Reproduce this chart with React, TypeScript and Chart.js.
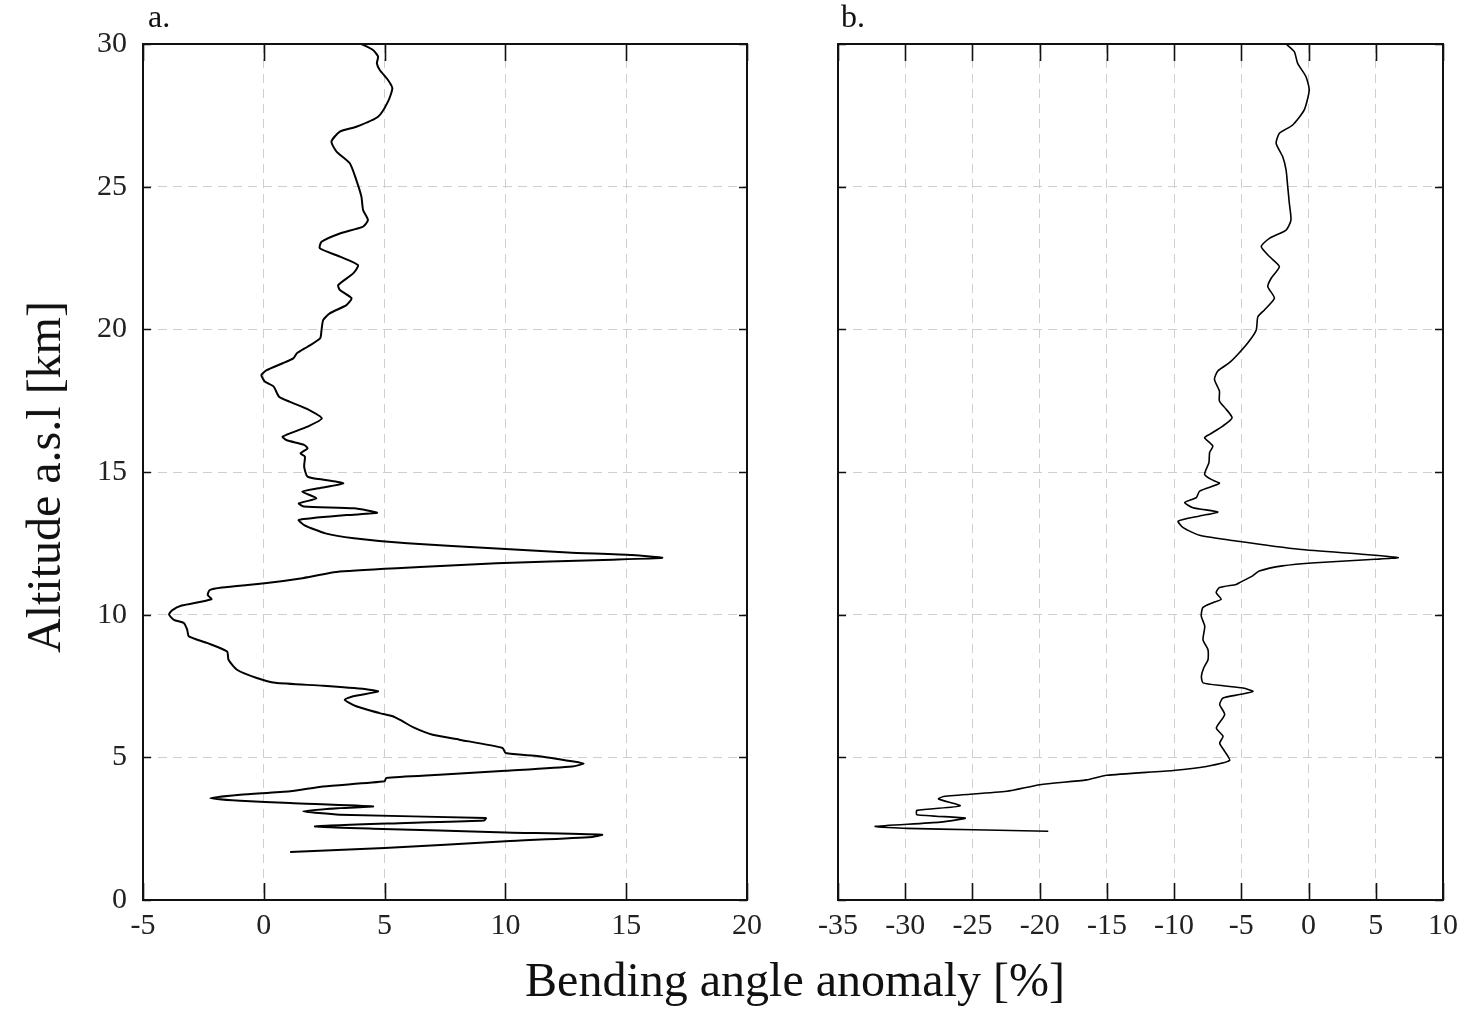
import React, { useEffect, useRef } from "react";
import { Chart, registerables } from "chart.js";

Chart.register(...registerables);

// Panel a: bending angle anomaly [%] vs altitude [km]
const altA = [
  30, 29.79, 29.56, 29.32, 29.09, 28.74, 28.45, 27.98, 27.45, 27.1, 26.93, 26.58, 26.23, 25.82, 25.23, 24.65,
  24.18, 23.83, 23.6, 23.36, 23.07, 22.84, 22.55, 22.25, 21.96, 21.55, 21.38, 21.09, 20.85, 20.56, 20.33, 19.98,
  19.68, 19.39, 19.16, 18.98, 18.81, 18.57, 18.4, 18.17, 17.99, 17.64, 17.46, 17.23, 16.88, 16.59, 16.24, 16.12,
  15.95, 15.83, 15.65, 15.54, 15.19, 14.84, 14.72, 14.6, 14.43, 14.31, 14.08, 13.9, 13.79, 13.73, 13.57, 13.49,
  13.32, 13.14, 12.85, 12.68, 12.5, 12.32, 12.18, 12.09, 11.99, 11.92, 11.8, 11.68, 11.51, 11.27, 11.1, 10.95,
  10.86, 10.69, 10.54, 10.32, 10.15, 10.0, 9.82, 9.71, 9.47, 9.24, 9.01, 8.71, 8.42, 8.07, 7.78, 7.61,
  7.51, 7.39, 7.31, 7.14, 7.02, 6.79, 6.55, 6.44, 6.26, 6.03, 5.79, 5.62, 5.33, 5.15, 5.04, 4.86,
  4.78, 4.68, 4.53, 4.39, 4.28, 4.16, 3.98, 3.81, 3.69, 3.57, 3.48, 3.4, 3.28, 3.22, 3.11, 2.99,
  2.87, 2.79, 2.7, 2.58, 2.5, 2.37, 2.29, 2.21, 2.06, 1.82, 1.68,
];
const anomA = [
  4.04, 4.52, 4.73, 4.68, 4.8, 5.14, 5.32, 5.14, 4.73, 3.83, 3.15, 2.8, 3.01, 3.56, 3.83, 4.04,
  4.11, 4.31, 4.11, 3.15, 2.39, 2.32, 3.15, 3.9, 3.7, 3.08, 3.15, 3.63, 3.42, 2.73, 2.46, 2.39,
  2.33, 1.81, 1.37, 1.22, 0.78, 0.12, -0.1, 0.04, 0.41, 0.63, 1.08, 1.74, 2.4, 1.81, 0.78, 0.93,
  1.67, 1.81, 1.52, 1.7, 1.67, 1.81, 2.55, 3.29, 2.26, 1.59, 2.18, 1.45, 1.67, 3.73, 4.69, 3.44,
  1.45, 1.67, 2.55, 3.73, 5.94, 9.63, 12.58, 15.24, 16.49, 14.06, 9.63, 6.68, 3.14, 1.52, 0.04, -1.73,
  -2.24, -2.32, -2.17, -3.4, -3.8, -3.92, -3.72, -3.31, -3.17, -3.1, -2.35, -1.52, -1.46, -1.11, -0.29, 0.47,
  2.46, 4.24, 4.73, 3.7, 3.35, 3.83, 4.79, 5.34, 5.75, 6.24, 6.99, 8.09, 9.88, 10.01, 11.39, 12.76,
  13.24, 12.76, 10.01, 7.27, 5.07, 5.0, 2.46, 1.09, -0.98, -2.21, -0.98, 1.09, 4.52, 3.15, 1.63, 3.15,
  9.19, 9.12, 5.89, 2.12, 4.52, 10.01, 14.0, 13.59, 10.01, 5.0, 1.09,
];

// Panel b
const altB = [
  30, 29.73, 29.32, 28.86, 28.39, 27.69, 27.16, 26.87, 26.52, 26.05, 25.58, 25.0, 24.42, 23.83, 23.48, 23.19,
  22.9, 22.55, 22.2, 21.79, 21.5, 21.09, 20.68, 20.44, 19.98, 19.59, 19.18, 18.83, 18.54, 18.25, 17.84, 17.49,
  17.2, 16.9, 16.61, 16.32, 16.2, 15.91, 15.68, 15.33, 14.92, 14.74, 14.6, 14.33, 14.1, 13.93, 13.75, 13.6,
  13.46, 13.28, 13.05, 12.78, 12.58, 12.29, 12.11, 12.0, 11.94, 11.82, 11.71, 11.53, 11.36, 11.12, 11.06, 10.95,
  10.77, 10.54, 10.42, 10.25, 9.95, 9.59, 9.12, 8.77, 8.42, 8.13, 7.84, 7.61, 7.51, 7.43, 7.31, 7.2,
  7.08, 6.85, 6.5, 6.03, 5.74, 5.5, 5.21, 4.89, 4.68, 4.54, 4.37, 4.21, 4.04, 3.81, 3.63, 3.54,
  3.3, 3.14, 2.99, 2.87, 2.73, 2.58, 2.51, 2.46, 2.41,
];
const anomB = [
  -1.67, -1.06, -0.81, -0.2, 0.05, -0.32, -1.18, -2.17, -2.41, -1.92, -1.67, -1.55, -1.43, -1.31, -1.67, -2.91,
  -3.52, -2.91, -2.17, -2.78, -3.03, -2.54, -3.28, -3.77, -3.89, -4.41, -5.15, -5.89, -6.75, -7.0, -6.63, -6.63,
  -6.13, -5.69, -6.38, -7.36, -7.73, -7.12, -7.36, -7.41, -7.73, -7.24, -6.63, -8.1, -8.35, -9.21, -8.6, -6.75,
  -8.1, -9.7, -9.33, -8.1, -5.39, -0.71, 4.21, 6.67, 4.95, 0.52, -1.95, -3.67, -4.16, -5.15, -5.39, -6.63,
  -6.87, -6.5, -7.12, -7.86, -7.98, -7.72, -7.85, -7.48, -7.48, -7.8, -7.97, -7.85, -6.36, -4.88, -4.13, -5.12,
  -6.36, -6.61, -6.24, -6.86, -6.36, -6.61, -6.24, -5.87, -7.6, -10.07, -15.02, -16.51, -19.98, -22.45, -27.15, -27.52,
  -25.92, -29.13, -29.13, -25.54, -27.4, -32.23, -29.88, -24.93, -19.36,
];

const xRangeA = [-5, 20];
const xRangeB = [-35, 10];
const yRange = [0, 30];
const tickStep = 5;
const panelLabels = ["a.", "b."];
const xTitle = "Bending angle anomaly [%]";
const yTitle = "Altitude a.s.l [km]";

const FONT = "'Liberation Serif', 'DejaVu Serif', serif";

const framePlugin = {
  id: "frameTicks",
  afterDatasetsDraw(chart: any) {
    const { ctx, chartArea, scales } = chart;
    const { left, right, top, bottom } = chartArea;
    const x = scales.x;
    const y = scales.y;
    ctx.save();
    ctx.strokeStyle = "#111";
    ctx.lineWidth = 1.6;
    ctx.beginPath();
    x.ticks.forEach((t: any) => {
      const px = Math.round(x.getPixelForValue(t.value)) + 0.5;
      ctx.moveTo(px, bottom);
      ctx.lineTo(px, bottom - 17);
      ctx.moveTo(px, top);
      ctx.lineTo(px, top + 17);
    });
    y.ticks.forEach((t: any) => {
      const py = Math.round(y.getPixelForValue(t.value)) + 0.5;
      ctx.moveTo(left, py);
      ctx.lineTo(left + 8, py);
      ctx.moveTo(right, py);
      ctx.lineTo(right - 8, py);
    });
    ctx.stroke();
    ctx.lineWidth = 2;
    ctx.strokeRect(left, top, right - left, bottom - top);
    ctx.restore();
  },
};

function makeConfig(alt: number[], anom: number[], xRange: number[], yAxisWidth: number, padRight: number, showY: boolean, lineWidth: number) {
  return {
    type: "line" as const,
    data: {
      datasets: [
        {
          data: alt.map((a, i) => ({ x: anom[i], y: a })),
          borderColor: "#000",
          borderWidth: lineWidth,
          pointRadius: 0,
          tension: 0.2,
          fill: false,
        },
      ],
    },
    options: {
      responsive: false,
      animation: false as const,
      layout: { padding: { top: 44, right: padRight, bottom: 0, left: 0 } },
      plugins: { legend: { display: false }, tooltip: { enabled: false } },
      scales: {
        x: {
          type: "linear" as const,
          min: xRange[0],
          max: xRange[1],
          ticks: {
            stepSize: tickStep,
            color: "#222",
            font: { family: FONT, size: 30 },
            padding: 8,
            maxRotation: 0,
          },
          grid: { color: "#cfcfcf", lineWidth: 1, drawTicks: false },
          border: { display: false, dash: [9, 6] },
          afterFit: (s: any) => {
            s.height = 60;
          },
        },
        y: {
          type: "linear" as const,
          min: yRange[0],
          max: yRange[1],
          ticks: {
            stepSize: tickStep,
            display: showY,
            color: "#222",
            font: { family: FONT, size: 30 },
            padding: 16,
          },
          grid: { color: "#cfcfcf", lineWidth: 1, drawTicks: false },
          border: { display: false, dash: [9, 6] },
          afterFit: (s: any) => {
            s.width = yAxisWidth;
          },
        },
      },
    },
    plugins: [framePlugin],
  };
}

function Panel(props: { left: number; width: number; config: any }) {
  const ref = useRef<HTMLCanvasElement | null>(null);
  useEffect(() => {
    if (!ref.current) return;
    const chart = new Chart(ref.current, props.config);
    return () => chart.destroy();
  }, []);
  return (
    <canvas
      ref={ref}
      width={props.width}
      height={960}
      style={{ position: "absolute", left: props.left, top: 0, width: props.width, height: 960 }}
    />
  );
}

export default function App() {
  const cfgA = makeConfig(altA, anomA, xRangeA, 143, 53, true, 2);
  const cfgB = makeConfig(altB, anomB, xRangeB, 78, 25, false, 1.6);
  const textBase: React.CSSProperties = {
    position: "absolute",
    fontFamily: FONT,
    color: "#111",
    whiteSpace: "nowrap",
  };
  return (
    <div style={{ position: "fixed", left: 0, top: 0, width: 1468, height: 1009, background: "#fff", overflow: "hidden" }}>
      <Panel left={0} width={800} config={cfgA} />
      <Panel left={760} width={708} config={cfgB} />
      <div style={{ ...textBase, left: 148, top: 0, fontSize: 32, lineHeight: "32px" }}>{panelLabels[0]}</div>
      <div style={{ ...textBase, left: 841, top: 0, fontSize: 32, lineHeight: "32px" }}>{panelLabels[1]}</div>
      <div
        style={{
          ...textBase,
          left: 795,
          top: 956,
          fontSize: 48,
          lineHeight: "48px",
          transform: "translateX(-50%)",
        }}
      >
        {xTitle}
      </div>
      <div
        style={{
          ...textBase,
          left: 44,
          top: 477,
          fontSize: 48,
          lineHeight: "48px",
          transform: "translate(-50%, -50%) rotate(-90deg)",
        }}
      >
        {yTitle}
      </div>
    </div>
  );
}
